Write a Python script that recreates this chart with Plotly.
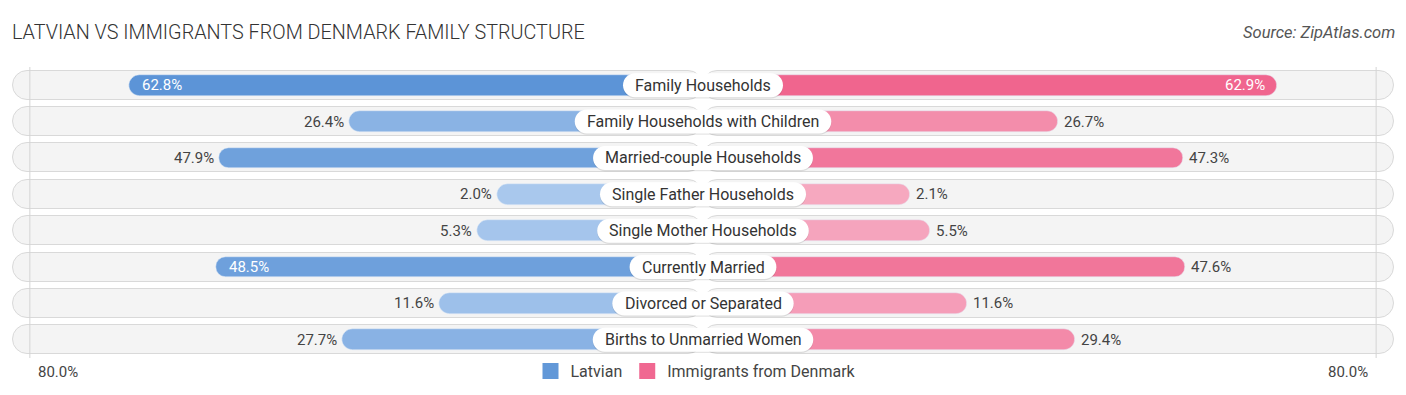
import plotly.graph_objects as go

# ---------------- data ----------------
categories = [
    "Family Households",
    "Family Households with Children",
    "Married-couple Households",
    "Single Father Households",
    "Single Mother Households",
    "Currently Married",
    "Divorced or Separated",
    "Births to Unmarried Women",
]
latvian = [62.8, 26.4, 47.9, 2.0, 5.3, 48.5, 11.6, 27.7]
denmark = [62.9, 26.7, 47.3, 2.1, 5.5, 47.6, 11.6, 29.4]
series_names = ["Latvian", "Immigrants from Denmark"]
axis_label = "80.0%"
title_text = "LATVIAN VS IMMIGRANTS FROM DENMARK FAMILY STRUCTURE"
source_text = "Source: ZipAtlas.com"

# ---------------- geometry / style ----------------
# the page body has an 8px margin, so the figure is drawn 8px in from the window edge
W, H = 1390, 387
M_T, M_B = 59, 37
PX_PER_UNIT = 6.048          # horizontal pixels per percentage point
OFFSET = 32.06               # bars start with a fixed stub under the label
XR = (W / 2) / PX_PER_UNIT   # half range of x axis
TRACK = 114.17               # half-length of background track
GRID = 111.3                 # position of the faint vertical guide lines
n = len(categories)
plot_h = H - M_T - M_B
PX_PER_ROW = plot_h / n
rows = list(range(n))

BLUE_HI, BLUE_LO = (92, 148, 215), (172, 202, 238)
PINK_HI, PINK_LO = (240, 101, 142), (246, 170, 193)
VMAX = 62.9


def mix(hi, lo, v):
    t = max(0.0, min(1.0, v / VMAX))
    c = [round(lo[i] + (hi[i] - lo[i]) * t) for i in range(3)]
    return "rgb(%d,%d,%d)" % tuple(c)


# Roboto advance widths (units of 2048) to size label pills
RW = {' ': 507, '%': 1465, '.': 539, '-': 553,
      'A': 1336, 'B': 1275, 'C': 1333, 'D': 1343, 'E': 1164, 'F': 1132, 'G': 1395, 'H': 1460,
      'I': 557, 'J': 1130, 'K': 1284, 'L': 1102, 'M': 1788, 'N': 1460, 'O': 1408, 'P': 1292,
      'Q': 1408, 'R': 1261, 'S': 1216, 'T': 1221, 'U': 1328, 'V': 1303, 'W': 1817, 'X': 1284,
      'Y': 1230, 'Z': 1226,
      'a': 1114, 'b': 1149, 'c': 1072, 'd': 1153, 'e': 1082, 'f': 711, 'g': 1149, 'h': 1128,
      'i': 497, 'j': 489, 'k': 1038, 'l': 497, 'm': 1795, 'n': 1130, 'o': 1168, 'p': 1149,
      'q': 1164, 'r': 693, 's': 1056, 't': 669, 'u': 1129, 'v': 992, 'w': 1538, 'x': 1015,
      'y': 969, 'z': 1015}


def text_px(s, size):
    return sum(RW.get(ch, 1100) for ch in s) * size / 2048.0


fig = go.Figure()

# background tracks (two halves, each rounded at its outer end)
for sgn in (-1, 1):
    fig.add_trace(go.Bar(
        y=rows, x=[sgn * TRACK] * n, base=0, orientation="h", width=0.8,
        marker=dict(color="#f4f4f4", line=dict(color="#d9d9d9", width=1), cornerradius="50%"),
        showlegend=False, hoverinfo="skip"))

# data bars
fig.add_trace(go.Bar(
    y=rows, x=[-(OFFSET + v) for v in latvian], base=0, orientation="h", width=0.57,
    marker=dict(color=[mix(BLUE_HI, BLUE_LO, v) for v in latvian], cornerradius="50%"),
    showlegend=False, hoverinfo="skip"))
fig.add_trace(go.Bar(
    y=rows, x=[(OFFSET + v) for v in denmark], base=0, orientation="h", width=0.57,
    marker=dict(color=[mix(PINK_HI, PINK_LO, v) for v in denmark], cornerradius="50%"),
    showlegend=False, hoverinfo="skip"))

# legend entries
fig.add_trace(go.Scatter(y=[None], x=[None], mode="markers", name=series_names[0],
                         marker=dict(color="rgb(98,152,216)", symbol="square", size=16)))
fig.add_trace(go.Scatter(y=[None], x=[None], mode="markers", name=series_names[1],
                         marker=dict(color="rgb(240,104,145)", symbol="square", size=16)))

shapes = []
annotations = []

# guide lines
for sgn in (-1, 1):
    shapes.append(dict(type="line", xref="x", yref="paper", x0=sgn * GRID, x1=sgn * GRID,
                       y0=0, y1=1, line=dict(color="#d4d4d4", width=1), layer="above"))

# value labels
for i in rows:
    v = latvian[i]
    inside = v >= 48
    annotations.append(dict(
        x=-(OFFSET + v), y=i, xref="x", yref="y", text="%.1f%%" % v, showarrow=False,
        xanchor="left" if inside else "right", xshift=11 if inside else -3,
        font=dict(family="Roboto", size=15, color="white" if inside else "#444")))
    v = denmark[i]
    inside = v >= 48
    annotations.append(dict(
        x=(OFFSET + v), y=i, xref="x", yref="y", text="%.1f%%" % v, showarrow=False,
        xanchor="right" if inside else "left", xshift=-10 if inside else 4,
        font=dict(family="Roboto", size=15, color="white" if inside else "#444")))

# category label pills
K = 0.5523
for i, cat in enumerate(categories):
    half_w = text_px(cat, 16) / 2 + 12
    rx = 12 / PX_PER_UNIT
    ry = 12 / PX_PER_ROW
    xl = -(half_w / PX_PER_UNIT) + rx
    xr = (half_w / PX_PER_UNIT) - rx
    for dy, fill in ((1.2 / PX_PER_ROW, "rgba(0,0,0,0.10)"), (0, "white")):
        yc = i + dy
        yt, yb = yc - ry, yc + ry
        path = (f"M {xl},{yt} L {xr},{yt} "
                f"C {xr + K * rx},{yt} {xr + rx},{yc - K * ry} {xr + rx},{yc} "
                f"C {xr + rx},{yc + K * ry} {xr + K * rx},{yb} {xr},{yb} "
                f"L {xl},{yb} "
                f"C {xl - K * rx},{yb} {xl - rx},{yc + K * ry} {xl - rx},{yc} "
                f"C {xl - rx},{yc - K * ry} {xl - K * rx},{yt} {xl},{yt} Z")
        shapes.append(dict(type="path", xref="x", yref="y", path=path, fillcolor=fill,
                           line=dict(width=0), layer="above"))
    annotations.append(dict(x=0, y=i, xref="x", yref="y", text=cat, showarrow=False,
                            font=dict(family="Roboto", size=16, color="#333")))

# axis end labels
annotations.append(dict(x=-GRID, y=0, xref="x", yref="paper", text=axis_label, showarrow=False,
                        xanchor="left", yanchor="middle", xshift=6, yshift=-14,
                        font=dict(family="Roboto", size=15, color="#444")))
annotations.append(dict(x=GRID, y=0, xref="x", yref="paper", text=axis_label, showarrow=False,
                        xanchor="right", yanchor="middle", xshift=-6, yshift=-14,
                        font=dict(family="Roboto", size=15, color="#444")))

# title and source (pixel positions within the figure, converted to paper fractions)
annotations.append(dict(x=2 / W, y=(H - 25 - M_B) / plot_h, xref="paper", yref="paper",
                        text=title_text, showarrow=False, xanchor="left", yanchor="middle",
                        font=dict(family="Roboto", size=19.8, color="#333", weight=300)))
annotations.append(dict(x=(W - 1) / W, y=(H - 25 - M_B) / plot_h, xref="paper", yref="paper",
                        text="<i>" + source_text + "</i>", showarrow=False,
                        xanchor="right", yanchor="middle",
                        font=dict(family="Roboto", size=16.5, color="#555")))

fig.update_layout(
    width=W, height=H,
    margin=dict(l=0, r=0, t=M_T, b=M_B, pad=0),
    paper_bgcolor="white", plot_bgcolor="white",
    barmode="overlay", bargap=0,
    xaxis=dict(range=[-XR, XR], visible=False, fixedrange=True),
    yaxis=dict(range=[n - 0.5, -0.5], visible=False, fixedrange=True),
    shapes=shapes, annotations=annotations,
    legend=dict(orientation="h", x=0.5 - 7 / W, xanchor="center", y=-13 / plot_h,
                yanchor="middle", itemsizing="trace",
                font=dict(family="Roboto", size=16, color="#444"), itemclick=False,
                bgcolor="rgba(0,0,0,0)"),
    showlegend=True,
)

fig.write_html("out.html", config={"displayModeBar": False})
